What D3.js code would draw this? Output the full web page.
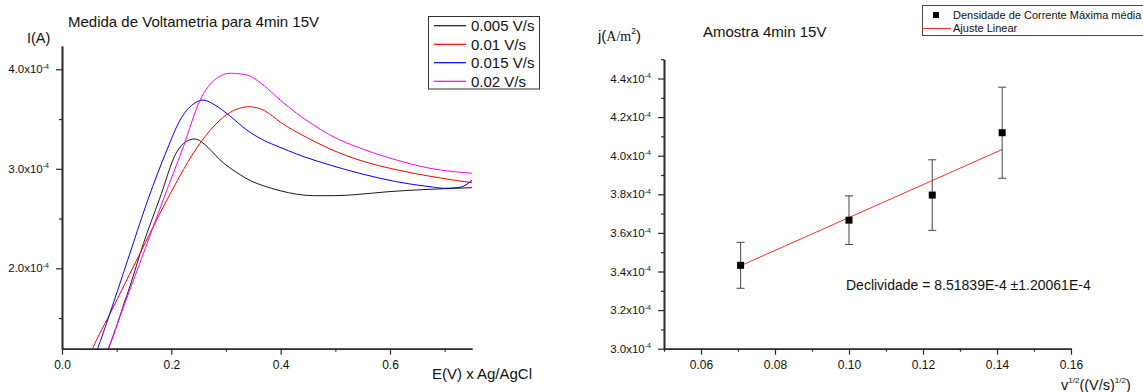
<!DOCTYPE html>
<html>
<head>
<meta charset="utf-8">
<script src="https://cdn.jsdelivr.net/npm/d3@7"></script>
<style>
  html, body { margin: 0; padding: 0; background: #fff; }
  svg { display: block; font-family: "Liberation Sans", Arial, sans-serif; }
</style>
</head>
<body>
<svg id="chart" width="1143" height="392"></svg>
<script>
// ---- Voltammetry scans (E in V vs Ag/AgCl, I in units of 1e-4 A) ----
const scanLabels = ["0.005 V/s", "0.01 V/s", "0.015 V/s", "0.02 V/s"];

const e005 = [0.080, 0.085, 0.100, 0.113, 0.124, 0.149, 0.178, 0.210, 0.226, 0.243, 0.260, 0.275, 0.289, 0.307, 0.326, 0.345, 0.368, 0.399, 0.429, 0.460, 0.500, 0.536, 0.597, 0.658, 0.750];
const i005 = [1.12, 1.192, 1.42, 1.64, 1.815, 2.25, 2.69, 3.17, 3.27, 3.30, 3.25, 3.17, 3.09, 3.01, 2.94, 2.88, 2.83, 2.78, 2.745, 2.73, 2.73, 2.74, 2.77, 2.79, 2.81];

const e010 = [0.050, 0.056, 0.0866, 0.140, 0.192, 0.2525, 0.289, 0.307, 0.326, 0.340, 0.355, 0.370, 0.385, 0.399, 0.429, 0.460, 0.490, 0.551, 0.612, 0.673, 0.750];
const i010 = [1.11, 1.192, 1.53, 2.12, 2.687, 3.256, 3.49, 3.565, 3.61, 3.624, 3.615, 3.585, 3.53, 3.47, 3.37, 3.28, 3.20, 3.075, 2.99, 2.925, 2.86];

const e015 = [0.060, 0.065, 0.0866, 0.120, 0.157, 0.192, 0.216, 0.240, 0.2586, 0.280, 0.307, 0.338, 0.368, 0.399, 0.429, 0.490, 0.551, 0.612, 0.673, 0.700, 0.728, 0.750];
const i015 = [1.12, 1.192, 1.53, 2.08, 2.687, 3.19, 3.49, 3.65, 3.69, 3.64, 3.531, 3.39, 3.289, 3.216, 3.149, 3.038, 2.945, 2.87, 2.82, 2.804, 2.814, 2.885];

const e020 = [0.080, 0.085, 0.106, 0.145, 0.185, 0.222, 0.2525, 0.283, 0.307, 0.338, 0.368, 0.399, 0.429, 0.460, 0.490, 0.551, 0.612, 0.673, 0.750];
const i020 = [1.12, 1.192, 1.514, 2.09, 2.687, 3.22, 3.69, 3.91, 3.96, 3.943, 3.842, 3.691, 3.558, 3.44, 3.34, 3.196, 3.088, 3.005, 2.955];

const leftYMajor = [2.0e-4, 3.0e-4, 4.0e-4];
const leftYMinor = [1.5e-4, 2.5e-4, 3.5e-4];
const leftXMajor = [0.0, 0.2, 0.4, 0.6];
const leftXMinor = [0.1, 0.3, 0.5, 0.7];

// ---- Peak current density vs square root of scan rate ----
const sqrtRate = [0.0707, 0.1000, 0.1225, 0.1414];
const jPeak = [3.432, 3.666, 3.796, 4.119];     // x 1e-4 A/m2
const jErr = [0.119, 0.126, 0.183, 0.236];      // x 1e-4 A/m2
const fitSlope = 8.51839e-4;
const fitSlopeErr = 1.20061e-4;

const rightYMajor = [3.0e-4, 3.2e-4, 3.4e-4, 3.6e-4, 3.8e-4, 4.0e-4, 4.2e-4, 4.4e-4];
const rightYMinor = [3.1e-4, 3.3e-4, 3.5e-4, 3.7e-4, 3.9e-4, 4.1e-4, 4.3e-4, 4.5e-4];
const rightXMajor = [0.06, 0.08, 0.10, 0.12, 0.14, 0.16];
const rightXMinor = [0.05, 0.07, 0.09, 0.11, 0.13, 0.15];

const legendRight = ["Densidade de Corrente Máxima média", "Ajuste Linear"];

// ---------------------------------------------------------------------
const svg = d3.select("#chart");
const axisColor = "#2a2a2a";
const scanColors = ["#1a1a1a", "#ff0000", "#0000ff", "#ff00ff"];

function styleAxis(g) {
  g.select(".domain").attr("stroke", axisColor).attr("stroke-width", 1.6);
  g.selectAll(".tick line").attr("stroke", axisColor).attr("stroke-width", 1.2);
}

function sciLabels(g) {
  g.selectAll(".tick text").each(function (d) {
    const t = d3.select(this);
    t.text(null);
    t.append("tspan").text((d * 1e4).toFixed(1) + "x10");
    t.append("tspan").attr("dy", -4.5).attr("font-size", 7).text("-4");
  });
}

// ================= Left panel: voltammograms =================
const xL = d3.scaleLinear().domain([0, 0.75]).range([62, 472]);
const yL = d3.scaleLinear().domain([1.192e-4, 4.234e-4]).range([348.7, 46]);

svg.append("clipPath").attr("id", "clipL")
  .append("rect").attr("x", xL(0)).attr("y", yL.range()[1])
  .attr("width", xL(0.75) - xL(0)).attr("height", yL.range()[0] - yL.range()[1]);

const scans = [[e005, i005], [e010, i010], [e015, i015], [e020, i020]];
const lineL = d3.line().x(d => xL(d[0])).y(d => yL(d[1] * 1e-4)).curve(d3.curveMonotoneX);

const curves = svg.append("g").attr("clip-path", "url(#clipL)");
scans.forEach(([es, is], k) => {
  curves.append("path")
    .datum(es.map((e, i) => [e, is[i]]))
    .attr("d", lineL)
    .attr("fill", "none")
    .attr("stroke", scanColors[k])
    .attr("stroke-width", 1);
});

// axes
const gLX = svg.append("g").attr("transform", `translate(0,${yL.range()[0]})`)
  .call(d3.axisBottom(xL).tickValues(leftXMajor).tickSize(6).tickSizeOuter(0).tickFormat(d3.format(".1f")));
gLX.selectAll(".tick text").attr("font-size", 12).attr("font-family", "Liberation Sans").attr("fill", "#111").attr("dy", "0.95em");
styleAxis(gLX);
const gLXm = svg.append("g").attr("transform", `translate(0,${yL.range()[0]})`)
  .call(d3.axisBottom(xL).tickValues(leftXMinor).tickSize(3).tickSizeOuter(0).tickFormat(""));
styleAxis(gLXm);

const gLY = svg.append("g").attr("transform", `translate(${xL(0)},0)`)
  .call(d3.axisLeft(yL).tickValues(leftYMajor).tickSize(6).tickSizeOuter(0).tickPadding(7));
gLY.selectAll(".tick text").attr("font-size", 11.5).attr("font-family", "Liberation Sans").attr("fill", "#111");
sciLabels(gLY);
styleAxis(gLY);
const gLYm = svg.append("g").attr("transform", `translate(${xL(0)},0)`)
  .call(d3.axisLeft(yL).tickValues(leftYMinor).tickSize(3).tickSizeOuter(0).tickFormat(""));
styleAxis(gLYm);

// titles
svg.append("text").attr("x", 68).attr("y", 27).attr("font-size", 15).attr("fill", "#111")
  .text("Medida de Voltametria para 4min 15V");
svg.append("text").attr("x", 27).attr("y", 42.5).attr("font-size", 14.5).attr("fill", "#111").text("I(A)");
svg.append("text").attr("x", 432).attr("y", 378.5).attr("font-size", 15).attr("fill", "#111").text("E(V) x Ag/AgCl");

// legend
const legL = svg.append("g");
legL.append("rect").attr("x", 428.5).attr("y", 16.5).attr("width", 111).attr("height", 72.5)
  .attr("fill", "#fff").attr("stroke", "#333").attr("stroke-width", 1);
const legRows = [25.7, 44.3, 62.7, 81.3];
scanLabels.forEach((lab, k) => {
  legL.append("line").attr("x1", 434).attr("x2", 466).attr("y1", legRows[k]).attr("y2", legRows[k])
    .attr("stroke", scanColors[k]).attr("stroke-width", 1.2);
  legL.append("text").attr("x", 471).attr("y", legRows[k] + 5.3).attr("font-size", 15).attr("fill", "#111").text(lab);
});

// ================= Right panel: peak current density =================
const xR = d3.scaleLinear().domain([0.05, 0.16]).range([664, 1071]);
const yR = d3.scaleLinear().domain([3.0e-4, 4.5e-4]).range([348.7, 59.2]);

const gRX = svg.append("g").attr("transform", `translate(0,${yR.range()[0]})`)
  .call(d3.axisBottom(xR).tickValues(rightXMajor).tickSize(6).tickSizeOuter(0).tickFormat(d3.format(".2f")));
gRX.selectAll(".tick text").attr("font-size", 12).attr("font-family", "Liberation Sans").attr("fill", "#111").attr("dy", "0.95em");
styleAxis(gRX);
const gRXm = svg.append("g").attr("transform", `translate(0,${yR.range()[0]})`)
  .call(d3.axisBottom(xR).tickValues(rightXMinor).tickSize(3).tickSizeOuter(0).tickFormat(""));
styleAxis(gRXm);

const gRY = svg.append("g").attr("transform", `translate(${xR(0.05)},0)`)
  .call(d3.axisLeft(yR).tickValues(rightYMajor).tickSize(6).tickSizeOuter(0).tickPadding(7));
gRY.selectAll(".tick text").attr("font-size", 11.5).attr("font-family", "Liberation Sans").attr("fill", "#111");
sciLabels(gRY);
styleAxis(gRY);
const gRYm = svg.append("g").attr("transform", `translate(${xR(0.05)},0)`)
  .call(d3.axisLeft(yR).tickValues(rightYMinor).tickSize(3).tickSizeOuter(0).tickFormat(""));
styleAxis(gRYm);

// linear fit drawn with the reported slope, passing through the data centroid
const xMean = d3.mean(sqrtRate);
const yMean = d3.mean(jPeak) * 1e-4;
const fitY = x => yMean + fitSlope * (x - xMean);
const xFit = d3.extent(sqrtRate);
svg.append("line")
  .attr("x1", xR(xFit[0])).attr("y1", yR(fitY(xFit[0])))
  .attr("x2", xR(xFit[1])).attr("y2", yR(fitY(xFit[1])))
  .attr("stroke", "#ff3030").attr("stroke-width", 1);

// error bars
const pts = sqrtRate.map((x, i) => ({ x, y: jPeak[i] * 1e-4, e: jErr[i] * 1e-4 }));
const eb = svg.append("g").attr("stroke", "#555").attr("stroke-width", 1.1);
pts.forEach(p => {
  eb.append("line").attr("x1", xR(p.x)).attr("x2", xR(p.x)).attr("y1", yR(p.y - p.e)).attr("y2", yR(p.y + p.e));
  [p.y - p.e, p.y + p.e].forEach(v => {
    eb.append("line").attr("x1", xR(p.x) - 4).attr("x2", xR(p.x) + 4).attr("y1", yR(v)).attr("y2", yR(v));
  });
});
svg.append("g").selectAll("rect").data(pts).join("rect")
  .attr("x", d => xR(d.x) - 3.5).attr("y", d => yR(d.y) - 3.5)
  .attr("width", 7).attr("height", 7).attr("fill", "#000");

// labels
const jLab = svg.append("text").attr("x", 598).attr("y", 40.5).attr("font-size", 15).attr("fill", "#111");
jLab.append("tspan").text("j(");
jLab.append("tspan").attr("font-family", "Liberation Serif").attr("font-size", 14).text("A/m");
jLab.append("tspan").attr("font-size", 8.5).attr("dy", -6.5).text("2");
jLab.append("tspan").attr("dy", 6.5).text(")");

svg.append("text").attr("x", 703).attr("y", 37).attr("font-size", 15).attr("fill", "#111").text("Amostra 4min 15V");

const xLab = svg.append("text").attr("x", 1061).attr("y", 389.5).attr("font-size", 14.5).attr("fill", "#111");
xLab.append("tspan").text("v");
xLab.append("tspan").attr("font-size", 8).attr("dy", -7).text("1/2");
xLab.append("tspan").attr("dy", 7).text("((V/s)");
xLab.append("tspan").attr("font-size", 8).attr("dy", -7).text("1/2");
xLab.append("tspan").attr("dy", 7).text(")");

svg.append("text").attr("x", 846).attr("y", 290).attr("font-size", 14).attr("fill", "#111")
  .text(`Declividade = ${fitSlope.toExponential(5).toUpperCase()} \u00B1${fitSlopeErr.toExponential(5).toUpperCase()}`);

// legend (right panel)
const legR = svg.append("g");
legR.append("rect").attr("x", 922.5).attr("y", 5.5).attr("width", 230).attr("height", 30)
  .attr("fill", "#fff").attr("stroke", "#444").attr("stroke-width", 1);
legR.append("rect").attr("x", 933).attr("y", 12).attr("width", 6).attr("height", 6).attr("fill", "#000");
legR.append("text").attr("x", 953).attr("y", 19).attr("font-size", 11).attr("fill", "#111").text(legendRight[0]);
legR.append("line").attr("x1", 922).attr("x2", 951).attr("y1", 28.5).attr("y2", 28.5).attr("stroke", "#ff3030").attr("stroke-width", 1);
legR.append("text").attr("x", 953).attr("y", 32).attr("font-size", 11).attr("fill", "#111").text(legendRight[1]);
</script>
</body>
</html>
